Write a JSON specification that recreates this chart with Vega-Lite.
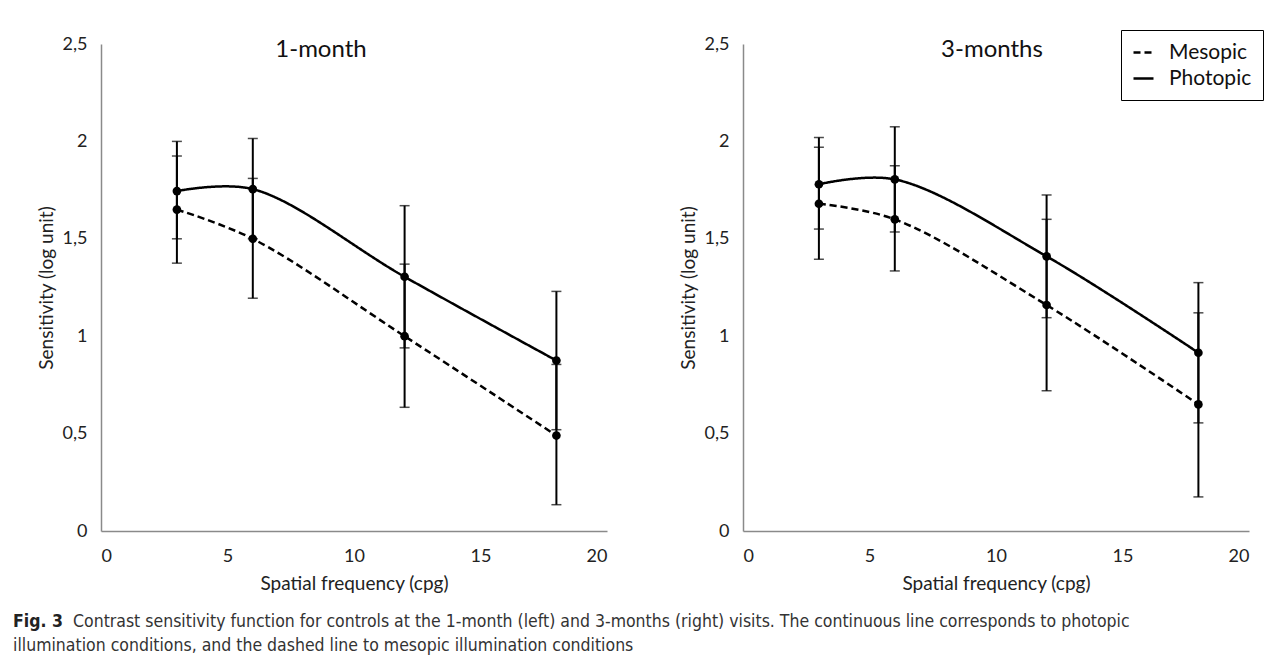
{
  "$schema": "https://vega.github.io/schema/vega-lite/v6.json",
  "usermeta": {"embedOptions": {"actions": false}},
  "background": "white",
  "padding": {"left": 13, "top": 29, "right": 5, "bottom": 2},
  "spacing": 72,
  "resolve": {"scale": {"strokeDash": "independent"}, "legend": {"strokeDash": "independent"}},
  "datasets": {
    "csf": [
      {"visit": "1-month", "cond": "Photopic", "f": 3, "s": 1.745, "lo": 1.50, "hi": 2.00},
      {"visit": "1-month", "cond": "Photopic", "f": 6, "s": 1.755, "lo": 1.50, "hi": 2.015},
      {"visit": "1-month", "cond": "Photopic", "f": 12, "s": 1.305, "lo": 0.94, "hi": 1.67},
      {"visit": "1-month", "cond": "Photopic", "f": 18, "s": 0.875, "lo": 0.52, "hi": 1.23},
      {"visit": "1-month", "cond": "Mesopic", "f": 3, "s": 1.65, "lo": 1.375, "hi": 1.925},
      {"visit": "1-month", "cond": "Mesopic", "f": 6, "s": 1.50, "lo": 1.195, "hi": 1.81},
      {"visit": "1-month", "cond": "Mesopic", "f": 12, "s": 1.00, "lo": 0.635, "hi": 1.37},
      {"visit": "1-month", "cond": "Mesopic", "f": 18, "s": 0.49, "lo": 0.135, "hi": 0.855},
      {"visit": "3-months", "cond": "Photopic", "f": 3, "s": 1.78, "lo": 1.55, "hi": 2.02},
      {"visit": "3-months", "cond": "Photopic", "f": 6, "s": 1.805, "lo": 1.535, "hi": 2.075},
      {"visit": "3-months", "cond": "Photopic", "f": 12, "s": 1.41, "lo": 1.095, "hi": 1.725},
      {"visit": "3-months", "cond": "Photopic", "f": 18, "s": 0.915, "lo": 0.555, "hi": 1.275},
      {"visit": "3-months", "cond": "Mesopic", "f": 3, "s": 1.68, "lo": 1.395, "hi": 1.97},
      {"visit": "3-months", "cond": "Mesopic", "f": 6, "s": 1.60, "lo": 1.335, "hi": 1.875},
      {"visit": "3-months", "cond": "Mesopic", "f": 12, "s": 1.16, "lo": 0.72, "hi": 1.60},
      {"visit": "3-months", "cond": "Mesopic", "f": 18, "s": 0.65, "lo": 0.175, "hi": 1.12}
    ]
  },
  "config": {
    "font": "Lato",
    "view": {"stroke": null},
    "axis": {
      "domainColor": "#8a8a8a",
      "domainWidth": 1.5,
      "ticks": false,
      "grid": false,
      "labelFont": "Lato",
      "labelFontSize": 18,
      "labelColor": "#222222",
      "titleFont": "Lato",
      "titleFontSize": 19,
      "titleFontWeight": "normal",
      "titleColor": "#222222"
    }
  },
  "title": {
    "text": "Fig. 3",
    "orient": "bottom",
    "anchor": "start",
    "frame": "bounds",
    "font": "DejaVu Sans Condensed",
    "fontSize": 17.5,
    "fontWeight": "bold",
    "color": "#222222",
    "offset": 20,
    "dx": -24,
    "subtitle": [
      "\u200b\u00a0\u00a0\u00a0\u00a0\u00a0\u00a0\u00a0\u00a0\u00a0\u00a0\u00a0\u00a0Contrast sensitivity function for controls at the 1-month (left) and 3-months (right) visits. The continuous line corresponds to photopic",
      "illumination conditions, and the dashed line to mesopic illumination conditions"
    ],
    "subtitleFont": "DejaVu Sans Condensed",
    "subtitleFontSize": 17.5,
    "subtitleColor": "#333333",
    "subtitlePadding": -17.5,
    "subtitleLineHeight": 24
  },
  "hconcat": [
    {
      "width": 506,
      "height": 487,
      "title": {"text": "1-month", "font": "Lato", "fontSize": 24, "fontWeight": "normal", "color": "#111111", "dx": -33, "offset": -27},
      "data": {"name": "csf"},
      "transform": [{"filter": "datum.visit == '1-month'"}],
      "encoding": {
        "x": {"field": "f", "type": "quantitative", "scale": {"domain": [0, 20], "nice": false}, "axis": {"values": [0, 5, 10, 15, 20], "title": "Spatial frequency (cpg)", "labelPadding": 16, "titlePadding": 9}}
      },
      "layer": [
        {
          "mark": {"type": "errorbar", "ticks": {"size": 10, "thickness": 1.5, "color": "black"}, "thickness": 2, "color": "black"},
          "encoding": {
            "y": {"field": "lo", "type": "quantitative", "scale": {"domain": [0, 2.5], "nice": false}, "axis": {"values": [0, 0.5, 1, 1.5, 2, 2.5], "labelExpr": "replace(format(datum.value, ''), '.', ',')", "title": "Sensitivity (log unit)", "labelPadding": 14, "titlePadding": 6}},
            "y2": {"field": "hi"},
            "detail": {"field": "cond", "type": "nominal"}
          }
        },
        {
          "mark": {"type": "line", "interpolate": "catmull-rom", "color": "black", "strokeWidth": 2.5},
          "encoding": {
            "y": {"field": "s", "type": "quantitative", "axis": {"title": "Sensitivity (log unit)"}},
            "strokeDash": {"field": "cond", "type": "nominal", "scale": {"domain": ["Mesopic", "Photopic"], "range": [[7, 4], [1, 0]]}, "legend": null}
          }
        },
        {
          "mark": {"type": "point", "filled": true, "color": "black", "opacity": 1, "size": 75},
          "encoding": {"y": {"field": "s", "type": "quantitative", "axis": {"title": "Sensitivity (log unit)"}}}
        }
      ]
    },
    {
      "width": 506,
      "height": 487,
      "title": {"text": "3-months", "font": "Lato", "fontSize": 24, "fontWeight": "normal", "color": "#111111", "dx": -4, "offset": -32},
      "data": {"name": "csf"},
      "transform": [{"filter": "datum.visit == '3-months'"}],
      "encoding": {
        "x": {"field": "f", "type": "quantitative", "scale": {"domain": [0, 20], "nice": false}, "axis": {"values": [0, 5, 10, 15, 20], "title": "Spatial frequency (cpg)", "labelPadding": 16, "titlePadding": 9}}
      },
      "layer": [
        {
          "mark": {"type": "errorbar", "ticks": {"size": 10, "thickness": 1.5, "color": "black"}, "thickness": 2, "color": "black"},
          "encoding": {
            "y": {"field": "lo", "type": "quantitative", "scale": {"domain": [0, 2.5], "nice": false}, "axis": {"values": [0, 0.5, 1, 1.5, 2, 2.5], "labelExpr": "replace(format(datum.value, ''), '.', ',')", "title": "Sensitivity (log unit)", "labelPadding": 14, "titlePadding": 6}},
            "y2": {"field": "hi"},
            "detail": {"field": "cond", "type": "nominal"}
          }
        },
        {
          "mark": {"type": "line", "interpolate": "catmull-rom", "color": "black", "strokeWidth": 2.5},
          "encoding": {
            "y": {"field": "s", "type": "quantitative", "axis": {"title": "Sensitivity (log unit)"}},
            "strokeDash": {
              "field": "cond", "type": "nominal",
              "scale": {"domain": ["Mesopic", "Photopic"], "range": [[7, 4], [1, 0]]},
              "legend": {
                "orient": "none", "legendX": 378, "legendY": -14, "title": null,
                "strokeColor": "black", "fillColor": "white", "padding": 11,
                "labelFont": "Lato", "labelFontSize": 21, "labelColor": "#111111", "labelOffset": 14,
                "symbolType": "stroke", "symbolStrokeWidth": 2.5, "symbolStrokeColor": "black", "symbolSize": 400, "rowPadding": 4
              }
            }
          }
        },
        {
          "mark": {"type": "point", "filled": true, "color": "black", "opacity": 1, "size": 75},
          "encoding": {"y": {"field": "s", "type": "quantitative", "axis": {"title": "Sensitivity (log unit)"}}}
        }
      ]
    }
  ]
}
